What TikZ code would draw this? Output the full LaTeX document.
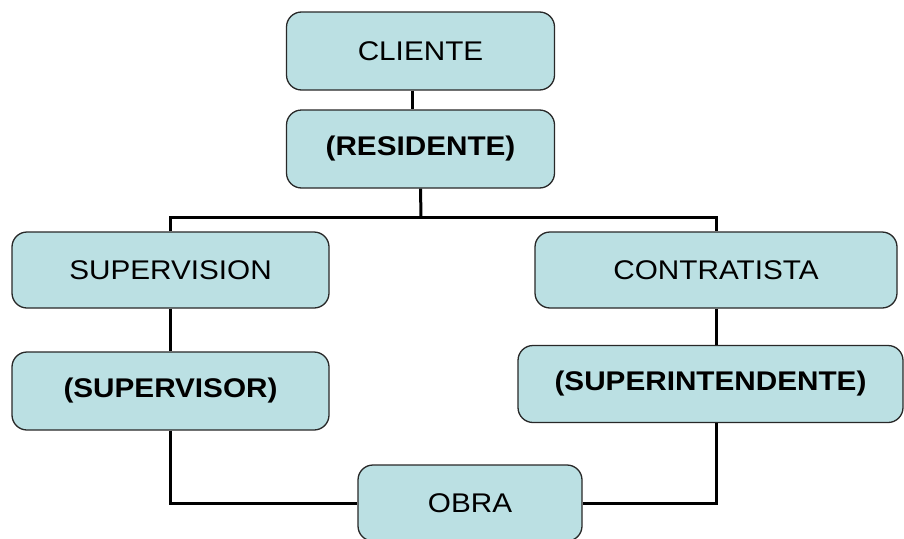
\documentclass[tikz,border=0pt]{standalone}
\usepackage{fontspec}
\setmainfont{Liberation Sans}[FakeStretch=1.1]
\begin{document}
\definecolor{boxfill}{RGB}{187,224,227}
\definecolor{boxline}{RGB}{40,40,40}
\begin{tikzpicture}[x=1pt,y=-1pt,
  orgbox/.style={draw=boxline,line width=1.3pt,fill=boxfill,rounded corners=15pt,
    minimum width=#1,inner sep=0pt,align=center,font=\fontsize{27}{31}\selectfont},
  orgbox/.default=266pt,
  link/.style={line width=3pt,draw=black}]
\useasboundingbox (0,0) rectangle (904,538);
% boxes (x = centre, width passed to the style)
\node[orgbox=268pt,minimum height=78pt] (cli) at (420.5,51) {CLIENTE};
\node[orgbox=268pt,minimum height=78pt] (res) at (420.5,149) {\textbf{(RESIDENTE)}};
\node[orgbox=317pt,minimum height=76pt] (sup) at (170.5,270) {SUPERVISION};
\node[orgbox=362pt,minimum height=76pt] (ctr) at (716,270) {CONTRATISTA};
\node[orgbox=317pt,minimum height=78pt] (sor) at (170.5,391) {\textbf{(SUPERVISOR)}};
\node[orgbox=385pt,minimum height=77pt] (spt) at (710.5,384) {\textbf{(SUPERINTENDENTE)}};
\node[orgbox=224pt,minimum height=76pt] (obra) at (470,503) {OBRA};
\coordinate (bar) at (421,217);
% connectors
\draw[link] ([xshift=-8.5pt]cli.south) -- ([xshift=-8.5pt]res.north);
\draw[link] (res.south) -- (bar);
\draw[link] (sup.north) |- (bar) -| (ctr.north);
\draw[link] (sup.south) -- (sor.north);
\draw[link] (ctr.south) -- (ctr.south |- spt.north);
\draw[link] (sor.south) |- (obra.west);
\draw[link] (ctr.south |- spt.south) |- (obra.east);
\end{tikzpicture}
\end{document}
